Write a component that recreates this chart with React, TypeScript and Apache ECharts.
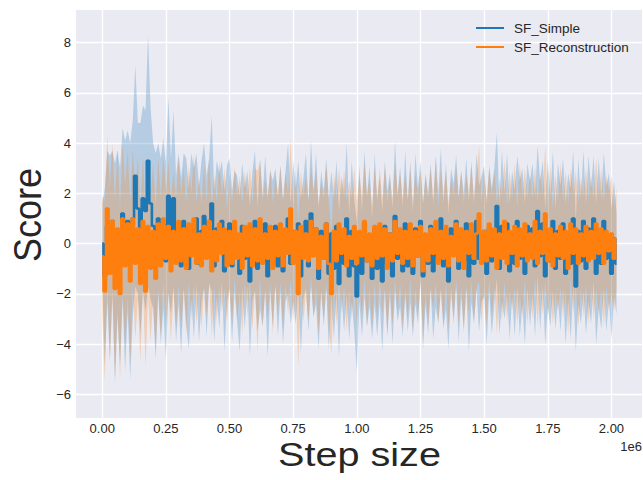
import React, { useEffect, useRef } from "react";
import * as echarts from "echarts";

const STEP = 10000;

const simpleMean = [
  0.0, -1.3, 0.7, -0.6, 0.9, -1.2, 0.4, -0.9, 1.2, -0.5,
  0.9, -0.7, 1.0, 2.7, 1.4, 0.6, 1.8, 1.3, 3.3, 1.6,
  0.7, -0.5, 1.0, -0.3, 0.8, -0.7, 1.9, 0.3, 1.8, -0.6,
  0.6, -0.9, 0.9, 0.1, -1.0, 0.7, -0.4, 1.0, -0.8, 0.5,
  1.1, -0.5, 0.9, 1.6, -0.9, 0.6, -0.3, 0.9, -1.1, 0.4,
  0.8, -0.9, 0.5, -0.2, -1.2, 0.7, -0.6, 0.6, -1.5, 0.3,
  0.9, -1.0, 0.4, -0.7, 0.8, -1.3, 0.5, -0.4, 0.7, -0.9,
  0.6, -1.1, 0.3, 1.0, -0.8, 0.5, -0.5, 0.8, -1.3, 0.2,
  0.9, -0.9, 1.2, -0.4, 0.6, -1.4, 0.5, -0.6, 0.8, -1.2,
  0.4, -1.0, 0.7, -1.6, 0.3, -0.8, 1.0, -1.3, 0.5, -0.9,
  -2.1, 0.4, -1.2, 0.8, -0.7, 0.3, -1.4, 0.6, -1.0, 0.2,
  -1.5, 0.7, -0.8, 0.4, -1.3, 1.1, -0.6, 0.3, -1.1, 0.8,
  -0.9, 0.5, -1.2, 0.6, -0.5, 0.9, -1.3, 0.2, -0.8, 0.7,
  -1.1, 0.5, -0.6, 1.0, -0.9, 0.3, -1.5, 0.6, -0.4, 0.9,
  -1.0, 0.4, -0.7, 0.8, -1.3, 0.5, -0.8, 0.9, -0.6, 0.2,
  0.5, -1.2, 0.6, -0.7, 0.3, 1.5, -1.0, 0.7, -0.5, 0.8,
  -1.1, 0.4, -0.8, 0.9, -0.6, 0.3, -1.2, 0.7, -0.4, 0.6,
  -0.9, 1.3, -0.5, 0.8, -1.3, 0.4, -0.7, 0.9, -1.0, 0.5,
  -0.6, 0.8, -1.2, 0.3, -0.8, 1.0, -1.7, 0.5, -0.7, 0.9,
  -1.0, 0.6, -0.5, 1.0, -1.2, 0.4, -0.8, 0.9, -0.6, 0.3,
  -1.2, 0.2, -0.8,
];

const simpleStd = [
  1.6, 3.5, 3.0, 4.1, 2.8, 4.4, 3.3, 3.9, 3.4, 4.6,
  3.6, 4.7, 3.9, 4.4, 3.4, 4.2, 3.7, 4.0, 5.0, 3.8,
  3.3, 4.1, 3.0, 3.7, 3.4, 3.9, 3.9, 3.1, 3.5, 3.3,
  3.0, 3.5, 2.7, 3.3, 3.2, 2.9, 3.4, 2.6, 3.1, 2.8,
  2.9, 3.2, 2.5, 3.5, 3.0, 2.7, 3.1, 2.4, 3.2, 2.7,
  2.6, 3.0, 2.4, 2.9, 3.1, 2.5, 2.8, 2.3, 3.0, 2.6,
  2.8, 2.5, 3.0, 2.6, 2.7, 3.2, 2.4, 2.9, 2.3, 2.8,
  2.5, 2.9, 2.6, 3.0, 2.4, 2.8, 2.7, 2.5, 3.1, 2.4,
  2.7, 2.6, 2.9, 2.5, 3.0, 2.8, 2.4, 2.7, 2.6, 3.0,
  2.5, 2.8, 2.6, 2.9, 2.4, 2.7, 3.0, 2.5, 2.8, 2.6,
  3.0, 2.7, 2.5, 2.9, 2.6, 2.8, 2.4, 3.0, 2.7, 2.5,
  2.8, 2.6, 2.9, 2.4, 2.7, 3.0, 2.5, 2.8, 2.6, 2.9,
  2.6, 2.8, 2.5, 3.0, 2.7, 2.4, 2.9, 2.6, 2.8, 2.5,
  2.7, 3.0, 2.6, 2.8, 2.5, 2.9, 2.7, 2.4, 2.8, 2.6,
  2.9, 2.5, 2.7, 2.6, 3.0, 2.8, 2.4, 2.7, 2.9, 2.5,
  2.6, 2.8, 2.5, 2.9, 2.7, 2.9, 2.6, 3.0, 2.5, 2.8,
  2.7, 2.5, 2.9, 2.6, 3.1, 2.7, 2.8, 2.5, 2.9, 2.6,
  2.8, 2.6, 3.0, 2.5, 2.7, 2.9, 2.6, 2.8, 2.4, 2.7,
  2.9, 2.6, 2.8, 2.5, 3.0, 2.7, 2.6, 2.9, 2.5, 2.8,
  2.6, 2.9, 2.7, 2.5, 2.8, 3.0, 2.6, 2.7, 2.9, 2.5,
  2.6, 2.3, 2.0,
];

const reconMean = [
  -0.5, -1.9, 1.4, -1.2, 0.9, -1.8, 0.6, -2.0, 1.0, -0.9,
  0.8, -1.5, 1.0, -0.8, 0.6, -1.6, 0.9, -1.9, 0.7, -1.0,
  0.5, -1.4, 0.8, -0.9, 1.0, -0.6, 0.7, -1.1, 0.5, -0.8,
  0.9, -0.7, 0.6, -1.0, 0.8, -0.5, 1.0, -0.8, 0.4, -0.9,
  0.7, -0.6, 0.9, -1.1, 0.5, -0.7, 0.8, -0.4, 0.6, -0.9,
  0.5, -0.8, 0.9, -0.6, 0.4, -1.0, 0.7, -0.5, 0.8, -0.9,
  0.6, -0.7, 1.0, -0.8, 0.4, -0.6, 0.7, -1.0, 0.5, -0.5,
  0.8, -0.9, 0.6, -0.4, 1.4, -0.8, 0.5, -2.0, 0.7, -0.6,
  0.4, -0.7, 0.9, -0.5, 0.6, -1.0, 0.3, -0.6, 0.8, -0.8,
  -2.0, 0.5, -0.7, 0.8, -0.4, 0.6, -0.9, 0.3, -0.6, 0.7,
  -0.8, 0.5, -0.5, 0.9, -0.7, 0.4, -0.9, 0.7, -0.6, 0.8,
  -0.5, 0.6, -1.0, 0.4, -0.7, 0.9, -0.4, 0.6, -0.8, 0.5,
  -0.6, 0.8, -0.9, 0.5, -0.5, 0.7, -1.1, 0.4, -0.7, 0.6,
  -0.4, 0.9, -0.8, 0.5, -0.6, 0.7, -0.9, 0.3, -0.5, 0.8,
  -0.7, 0.6, -1.0, 0.5, -0.4, 0.8, -0.6, 0.4, 1.2, -0.8,
  0.5, -0.7, 0.8, -0.5, 0.6, -1.0, 0.4, -0.6, 0.9, -0.8,
  0.5, -0.4, 0.7, -0.9, 0.6, -0.5, 0.8, -0.7, 0.4, -0.6,
  0.9, -0.8, 0.5, -0.4, 1.2, -0.7, 0.6, -0.9, 0.4, -0.5,
  0.7, -0.6, 0.5, -1.0, 0.8, -0.4, 0.6, -0.8, 0.4, -0.5,
  0.7, -0.7, 0.5, -0.6, 0.8, -0.4, 0.6, -0.8, 0.5, -0.3,
  0.4, -0.6, 0.2,
];

const reconStd = [
  2.4, 3.6, 2.9, 3.4, 3.1, 3.5, 3.2, 3.4, 3.0, 3.2,
  2.9, 3.2, 2.7, 3.0, 2.8, 3.1, 2.6, 3.0, 2.8, 2.9,
  2.7, 2.9, 2.6, 2.8, 2.5, 2.7, 2.6, 2.8, 2.4, 2.6,
  2.5, 2.7, 2.4, 2.6, 2.3, 2.5, 2.6, 2.4, 2.2, 2.5,
  2.4, 2.3, 2.5, 2.6, 2.2, 2.4, 2.5, 2.3, 2.4, 2.2,
  2.3, 2.4, 2.2, 2.5, 2.3, 2.6, 2.2, 2.4, 2.3, 2.5,
  2.4, 3.6, 2.3, 2.5, 2.2, 2.4, 2.3, 2.6, 2.2, 2.4,
  2.3, 2.5, 2.2, 2.4, 2.8, 2.3, 2.4, 2.9, 2.2, 2.5,
  2.3, 2.4, 2.2, 2.5, 2.3, 2.6, 2.2, 2.4, 2.3, 2.5,
  2.4, 2.3, 2.5, 2.2, 2.4, 2.3, 2.6, 2.2, 2.4, 2.3,
  2.5, 2.2, 2.4, 2.3, 2.6, 2.2, 2.4, 2.3, 2.5, 2.2,
  2.3, 2.4, 2.6, 2.2, 2.5, 2.3, 2.4, 2.2, 2.6, 2.3,
  2.4, 2.2, 2.5, 2.3, 2.4, 2.2, 2.7, 2.3, 2.5, 2.4,
  2.2, 2.5, 2.3, 2.4, 2.6, 2.2, 2.5, 2.3, 2.4, 2.2,
  2.5, 2.3, 2.6, 2.2, 2.4, 2.3, 2.5, 2.2, 2.7, 2.4,
  2.3, 2.5, 2.2, 2.4, 2.3, 2.6, 2.2, 2.5, 2.4, 2.3,
  2.4, 2.2, 2.5, 2.3, 2.6, 2.4, 2.2, 2.5, 2.3, 2.4,
  2.2, 2.5, 2.3, 2.4, 2.7, 2.2, 2.5, 2.3, 2.4, 2.2,
  2.5, 2.3, 2.4, 2.6, 2.2, 2.4, 2.3, 2.5, 2.2, 2.4,
  2.3, 2.5, 2.2, 2.4, 2.6, 2.3, 2.4, 2.5, 2.2, 2.4,
  2.3, 2.1, 2.0,
];

const xTicks = [0, 250000, 500000, 750000, 1000000, 1250000, 1500000, 1750000, 2000000];
const yTicks = [-6, -4, -2, 0, 2, 4, 6, 8];

const BLUE = "#1f77b4";
const ORANGE = "#ff7f0e";
const FONT = "'Liberation Sans', Arial, sans-serif";
const TXT = "#262626";

// band drawn as one polygon (mean - std .. mean + std) through the chart's own scales
function bandSeries(mean: number[], std: number[], color: string, key: string) {
  const data = mean.map((m, i) => [i * STEP, +(m - std[i]).toFixed(2), +(m + std[i]).toFixed(2)]);
  return {
    name: key + "_band",
    type: "custom",
    silent: true,
    z: 1,
    data,
    encode: { x: 0, y: [1, 2] },
    renderItem: (params: any, api: any) => {
      if (params.dataIndex !== 0) return null;
      const upper = data.map((d) => api.coord([d[0], d[2]]));
      const lower = data.map((d) => api.coord([d[0], d[1]])).reverse();
      return {
        type: "polygon",
        shape: { points: upper.concat(lower) },
        style: { fill: color, opacity: 0.26 },
        silent: true,
      };
    },
  };
}

function lineSeries(name: string, mean: number[], color: string) {
  return {
    name,
    type: "line",
    step: "middle",
    data: mean.map((v, i) => [i * STEP, v]),
    symbol: "none",
    lineStyle: { color, width: 2.6 },
    itemStyle: { color },
    z: 3,
  };
}

export default function App() {
  const ref = useRef<HTMLDivElement>(null);
  useEffect(() => {
    if (!ref.current) return;
    const chart = echarts.init(ref.current, null, { renderer: "svg" });
    chart.setOption({
      animation: false,
      backgroundColor: "#ffffff",
      grid: {
        left: 76,
        right: 1,
        top: 10,
        bottom: 62,
        show: true,
        backgroundColor: "#EAEAF2",
        borderWidth: 0,
      },
      legend: {
        data: ["SF_Simple", "SF_Reconstruction"],
        orient: "vertical",
        left: 476,
        top: 20,
        padding: 0,
        icon: "rect",
        itemWidth: 28,
        itemHeight: 2,
        itemGap: 3,
        textStyle: {
          fontSize: 13.5,
          color: TXT,
          fontFamily: FONT,
          lineHeight: 16,
          padding: [0, 0, 0, 5],
        },
      },
      xAxis: {
        type: "value",
        min: -103000,
        max: 2120000,
        axisLine: { show: false },
        axisTick: { show: false, customValues: xTicks },
        axisLabel: {
          customValues: xTicks,
          formatter: (v: number) => (v / 1e6).toFixed(2),
          fontSize: 13,
          color: TXT,
          fontFamily: FONT,
          margin: 4,
        },
        splitLine: { show: true, lineStyle: { color: "#ffffff", width: 1.3 } },
      },
      yAxis: {
        type: "value",
        min: -6.94,
        max: 9.3,
        axisLine: { show: false },
        axisTick: { show: false, customValues: yTicks },
        axisLabel: {
          customValues: yTicks,
          formatter: (v: number) => (v < 0 ? "\u2212" + Math.abs(v) : String(v)),
          fontSize: 13,
          color: TXT,
          fontFamily: FONT,
          margin: 5,
        },
        splitLine: { show: true, lineStyle: { color: "#ffffff", width: 1.3 } },
      },
      graphic: [
        {
          type: "text",
          x: 359.5,
          y: 454.5,
          scaleX: 1.2,
          style: {
            text: "Step size",
            font: `33px ${FONT}`,
            fill: TXT,
            align: "center",
            verticalAlign: "middle",
          },
        },
        {
          type: "text",
          x: 27.5,
          y: 215,
          rotation: Math.PI / 2,
          scaleY: 1.1,
          style: {
            text: "Score",
            font: `36px ${FONT}`,
            fill: TXT,
            align: "center",
            verticalAlign: "middle",
          },
        },
        {
          type: "text",
          x: 642,
          y: 446.5,
          style: {
            text: "1e6",
            font: `13px ${FONT}`,
            fill: TXT,
            align: "right",
            verticalAlign: "middle",
          },
        },
      ],
      series: [
        bandSeries(simpleMean, simpleStd, BLUE, "simple"),
        bandSeries(reconMean, reconStd, ORANGE, "recon"),
        lineSeries("SF_Simple", simpleMean, BLUE),
        lineSeries("SF_Reconstruction", reconMean, ORANGE),
      ],
    });
    return () => chart.dispose();
  }, []);
  return <div ref={ref} style={{ width: 643, height: 480, position: "absolute", left: 0, top: 0 }} />;
}
